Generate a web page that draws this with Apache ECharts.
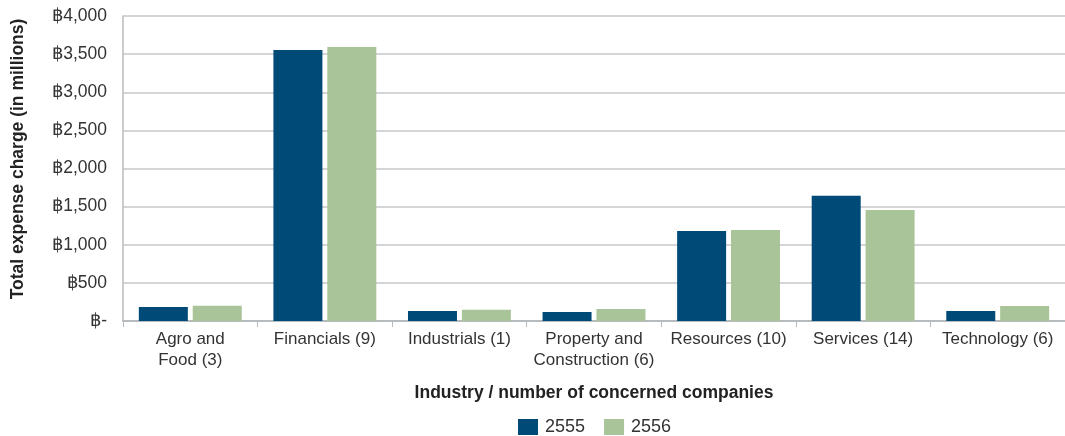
<!DOCTYPE html>
<html>
<head>
<meta charset="utf-8">
<script src="https://cdn.jsdelivr.net/npm/echarts@6/dist/echarts.min.js"></script>
<style>
html, body { margin: 0; padding: 0; background: #fff; }
#chart { width: 1065px; height: 436px; }
</style>
</head>
<body>
<div id="chart"></div>
<script>
// Industry groups (number of concerned companies)
const categories = [
  'Agro and\nFood (3)',
  'Financials (9)',
  'Industrials (1)',
  'Property and\nConstruction (6)',
  'Resources (10)',
  'Services (14)',
  'Technology (6)'
];
// Total expense charge, millions of baht
const values2555 = [184, 3554, 131, 118, 1180, 1643, 131];
const values2556 = [200, 3593, 148, 157, 1193, 1456, 197];
const yTicks = { min: 0, max: 4000, interval: 500 };
const yTitle = 'Total expense charge (in millions)';

const font = '"Liberation Sans", Arial, sans-serif';
const chart = echarts.init(document.getElementById('chart'));

chart.setOption({
  animation: false,
  textStyle: { fontFamily: font },
  grid: { left: 123, right: 0, top: 16, bottom: 115 },
  // vertical axis title, set slightly above the plot's middle
  graphic: [{
    type: 'text',
    x: 18,
    y: 159,
    rotation: Math.PI / 2,
    style: {
      text: yTitle,
      font: 'bold 17.5px ' + font,
      fill: '#222',
      align: 'center',
      verticalAlign: 'middle'
    }
  }],
  // legend centred under the plot area rather than the page
  legend: {
    top: 418,
    left: 518,
    padding: 0,
    itemWidth: 20,
    itemHeight: 16,
    itemGap: 19,
    icon: 'rect',
    textStyle: { fontSize: 18, color: '#333', fontFamily: font, padding: [0, 0, 0, 2] },
    data: ['2555', '2556']
  },
  xAxis: {
    type: 'category',
    data: categories,
    name: 'Industry / number of concerned companies',
    nameLocation: 'middle',
    nameGap: 63,
    nameTextStyle: { fontSize: 17.5, fontWeight: 'bold', color: '#222', fontFamily: font },
    axisLine: { lineStyle: { color: '#b8bbbe', width: 2 } },
    axisTick: { show: true, length: 6, lineStyle: { color: '#b8bbbe' } },
    axisLabel: { fontSize: 17, color: '#333', lineHeight: 21, margin: 8, interval: 0, fontFamily: font }
  },
  yAxis: {
    type: 'value',
    min: yTicks.min,
    max: yTicks.max,
    interval: yTicks.interval,
    axisLine: { show: true, lineStyle: { color: '#b8bbbe', width: 1.5 } },
    axisTick: { show: false },
    splitLine: { lineStyle: { color: '#c4c7ca', width: 1.5 } },
    axisLabel: {
      fontSize: 17.5,
      color: '#333',
      margin: 16,
      fontFamily: font,
      formatter: v => v === 0 ? '฿-' : '฿' + v.toLocaleString('en-US')
    }
  },
  series: [
    {
      name: '2555',
      type: 'bar',
      data: values2555,
      barWidth: 49,
      barGap: '10%',
      itemStyle: { color: '#004a77' }
    },
    {
      name: '2556',
      type: 'bar',
      data: values2556,
      barWidth: 49,
      itemStyle: { color: '#a8c498' }
    }
  ]
});
</script>
</body>
</html>
